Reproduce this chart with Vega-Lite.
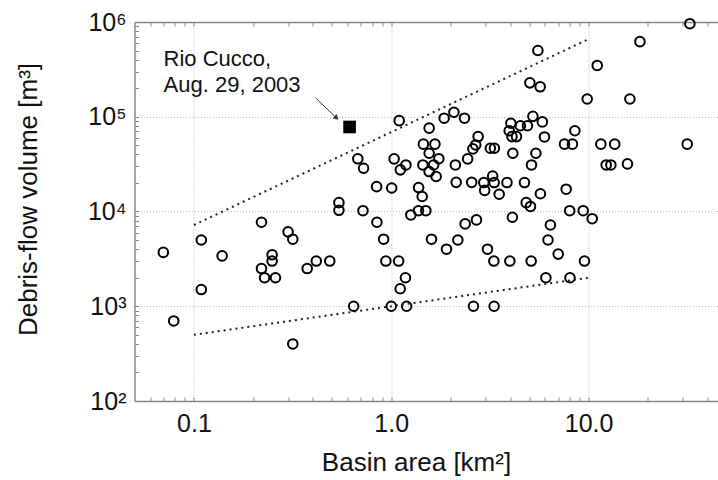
{
  "$schema": "https://vega.github.io/schema/vega-lite/v6.json",
  "width": 583,
  "height": 379,
  "autosize": "none",
  "padding": {"left": 134.5, "top": 22, "right": 0, "bottom": 79},
  "background": "white",
  "config": {
    "view": {"stroke": null},
    "font": "Liberation Sans",
    "axis": {"labelFont": "Liberation Sans", "titleFont": "Liberation Sans", "labelColor": "#111", "titleColor": "#111", "titleFontWeight": "normal"}
  },
  "datasets": {
    "pts": [
      {"area": 0.070, "volume": 3700}, {"area": 0.079, "volume": 700}, {"area": 0.109, "volume": 5000}, {"area": 0.109, "volume": 1500},
      {"area": 0.139, "volume": 3400}, {"area": 0.22, "volume": 7700}, {"area": 0.22, "volume": 2500}, {"area": 0.228, "volume": 2000},
      {"area": 0.249, "volume": 3500}, {"area": 0.249, "volume": 3000}, {"area": 0.259, "volume": 2000}, {"area": 0.30, "volume": 6100},
      {"area": 0.317, "volume": 5100}, {"area": 0.317, "volume": 400}, {"area": 0.375, "volume": 2500}, {"area": 0.417, "volume": 3000},
      {"area": 0.488, "volume": 3000}, {"area": 0.543, "volume": 12400}, {"area": 0.543, "volume": 10300}, {"area": 0.645, "volume": 1000},
      {"area": 0.677, "volume": 36000}, {"area": 0.724, "volume": 28600}, {"area": 0.719, "volume": 10200}, {"area": 0.843, "volume": 18300},
      {"area": 0.846, "volume": 7700}, {"area": 0.915, "volume": 5100}, {"area": 0.939, "volume": 3000}, {"area": 1.0, "volume": 1000},
      {"area": 1.005, "volume": 17700}, {"area": 1.034, "volume": 35900}, {"area": 1.097, "volume": 91000}, {"area": 1.112, "volume": 27500},
      {"area": 1.09, "volume": 3000}, {"area": 1.11, "volume": 1530}, {"area": 1.18, "volume": 2000}, {"area": 1.187, "volume": 31000},
      {"area": 1.197, "volume": 1000}, {"area": 1.257, "volume": 9200}, {"area": 1.376, "volume": 17900}, {"area": 1.374, "volume": 10200},
      {"area": 1.435, "volume": 14400}, {"area": 1.455, "volume": 51400}, {"area": 1.446, "volume": 31000}, {"area": 1.497, "volume": 10200},
      {"area": 1.556, "volume": 75800}, {"area": 1.556, "volume": 41200}, {"area": 1.556, "volume": 26400}, {"area": 1.599, "volume": 5100},
      {"area": 1.665, "volume": 51400}, {"area": 1.640, "volume": 31000}, {"area": 1.689, "volume": 23400}, {"area": 1.742, "volume": 36100},
      {"area": 1.854, "volume": 96500}, {"area": 1.905, "volume": 4000}, {"area": 2.078, "volume": 111600}, {"area": 2.113, "volume": 31000},
      {"area": 2.133, "volume": 20300}, {"area": 2.175, "volume": 5000}, {"area": 2.350, "volume": 96500}, {"area": 2.369, "volume": 7400},
      {"area": 2.438, "volume": 35900}, {"area": 2.556, "volume": 20300}, {"area": 2.592, "volume": 45800}, {"area": 2.610, "volume": 1000},
      {"area": 2.679, "volume": 50400}, {"area": 2.703, "volume": 8150}, {"area": 2.756, "volume": 61700}, {"area": 2.946, "volume": 20200},
      {"area": 2.974, "volume": 16700}, {"area": 3.073, "volume": 4000}, {"area": 3.178, "volume": 46500}, {"area": 3.265, "volume": 23700},
      {"area": 3.323, "volume": 20200}, {"area": 3.334, "volume": 46500}, {"area": 3.311, "volume": 3000}, {"area": 3.32, "volume": 1000},
      {"area": 3.523, "volume": 15200}, {"area": 3.859, "volume": 20200}, {"area": 3.960, "volume": 71200}, {"area": 3.99, "volume": 3000},
      {"area": 4.037, "volume": 85400}, {"area": 4.091, "volume": 61700}, {"area": 4.110, "volume": 8700}, {"area": 4.131, "volume": 41200},
      {"area": 4.311, "volume": 61700}, {"area": 4.510, "volume": 80400}, {"area": 4.733, "volume": 20200}, {"area": 4.829, "volume": 12400},
      {"area": 4.900, "volume": 80400}, {"area": 5.04, "volume": 228000}, {"area": 5.076, "volume": 11300}, {"area": 5.117, "volume": 3000},
      {"area": 5.136, "volume": 31000}, {"area": 5.221, "volume": 101000}, {"area": 5.407, "volume": 41200}, {"area": 5.534, "volume": 500000},
      {"area": 5.684, "volume": 207000}, {"area": 5.70, "volume": 15400}, {"area": 5.830, "volume": 88200}, {"area": 5.976, "volume": 61200},
      {"area": 6.075, "volume": 2000}, {"area": 6.227, "volume": 5000}, {"area": 6.404, "volume": 7200}, {"area": 7.015, "volume": 3550},
      {"area": 7.548, "volume": 51400}, {"area": 7.698, "volume": 17200}, {"area": 8.02, "volume": 10200}, {"area": 8.05, "volume": 2000},
      {"area": 8.28, "volume": 51400}, {"area": 8.52, "volume": 71200}, {"area": 9.39, "volume": 10200}, {"area": 9.53, "volume": 3000},
      {"area": 9.84, "volume": 154000}, {"area": 10.43, "volume": 8400}, {"area": 11.06, "volume": 348000}, {"area": 11.54, "volume": 51400},
      {"area": 12.28, "volume": 31000}, {"area": 12.97, "volume": 31000}, {"area": 13.56, "volume": 51400}, {"area": 15.74, "volume": 31800},
      {"area": 16.19, "volume": 154000}, {"area": 18.2, "volume": 620000}, {"area": 31.6, "volume": 51400}, {"area": 32.6, "volume": 960000}
    ],
    "cucco": [{"area": 0.615, "volume": 78000}],
    "bounds": [
      {"bound": "upper", "area": 0.1, "volume": 7200}, {"bound": "upper", "area": 10, "volume": 660000},
      {"bound": "lower", "area": 0.1, "volume": 500}, {"bound": "lower", "area": 10, "volume": 2000}
    ],
    "note": [
      {"area": 0.0702, "volume": 346000, "label": "Rio Cucco,"},
      {"area": 0.0702, "volume": 184000, "label": "Aug. 29, 2003"}
    ],
    "arrow": [{"x1": 0.414, "y1": 157800, "x2": 0.528, "y2": 97000}]
  },
  "layer": [
    {
      "data": {"name": "pts"},
      "mark": {"type": "point", "shape": "circle", "filled": false, "size": 92, "strokeWidth": 2, "color": "#000", "opacity": 1},
      "encoding": {
        "x": {"field": "area", "type": "quantitative", "scale": {"type": "log", "domain": [0.05, 45], "nice": false},
          "axis": {"orient": "bottom", "values": [0.1, 1, 10], "format": ".1f", "ticks": false, "domain": true, "domainColor": "#888", "domainWidth": 1.5,
            "grid": true, "gridColor": "#bbb", "gridDash": [1, 2], "gridWidth": 1, "labelFontSize": 25, "labelPadding": 10, "labelFlush": false, "labelOverlap": false,
            "title": "Basin area [km²]", "titleFontSize": 26, "titleX": 281.5, "titleY": 69, "titleAlign": "center", "titleBaseline": "alphabetic", "titleAnchor": null}},
        "y": {"field": "volume", "type": "quantitative", "scale": {"type": "log", "domain": [100, 1000000], "nice": false},
          "axis": {"orient": "left", "values": [100, 1000, 10000, 100000, 1000000],
            "labelExpr": "datum.value == 100 ? '10²' : datum.value == 1000 ? '10³' : datum.value == 10000 ? '10⁴' : datum.value == 100000 ? '10⁵' : '10⁶'",
            "ticks": false, "domain": true, "domainColor": "#888", "domainWidth": 1.5,
            "grid": true, "gridColor": "#bbb", "gridDash": [1, 2], "gridWidth": 1, "labelFontSize": 25, "labelPadding": 8.5, "labelFlush": false, "labelOverlap": false,
            "title": "Debris-flow volume [m³]", "titleFontSize": 26, "titleX": -106, "titleY": 177, "titleAngle": -90, "titleAlign": "center", "titleBaseline": "middle"}}
      }
    },
    {
      "data": {"name": "cucco"},
      "mark": {"type": "point", "shape": "square", "filled": true, "size": 160, "color": "#000", "opacity": 1},
      "encoding": {
        "x": {"field": "area", "type": "quantitative", "scale": {"type": "log", "domain": [0.05, 45], "nice": false},
          "axis": {"orient": "bottom", "values": [0.06, 0.07, 0.08, 0.09, 0.1, 0.2, 0.3, 0.4, 0.5, 0.6, 0.7, 0.8, 0.9, 1, 2, 3, 4, 5, 6, 7, 8, 9, 10, 20, 30, 40],
            "labels": false, "domain": false, "grid": false, "ticks": true, "tickSize": -4, "tickColor": "#888", "tickWidth": 1, "title": null}},
        "y": {"field": "volume", "type": "quantitative", "scale": {"type": "log", "domain": [100, 1000000], "nice": false},
          "axis": {"orient": "left", "values": [100, 200, 300, 400, 500, 600, 700, 800, 900, 1000, 2000, 3000, 4000, 5000, 6000, 7000, 8000, 9000, 10000, 20000, 30000, 40000, 50000, 60000, 70000, 80000, 90000, 100000, 200000, 300000, 400000, 500000, 600000, 700000, 800000, 900000, 1000000],
            "labels": false, "domain": false, "grid": false, "ticks": true, "tickSize": -4, "tickColor": "#888", "tickWidth": 1, "title": null}}
      }
    },
    {
      "data": {"name": "bounds"},
      "mark": {"type": "line", "strokeDash": [2, 4], "strokeWidth": 2, "color": "#222"},
      "encoding": {
        "x": {"field": "area", "type": "quantitative", "scale": {"type": "log", "domain": [0.05, 45], "nice": false},
          "axis": {"orient": "top", "values": [0.06, 0.07, 0.08, 0.09, 0.1, 0.2, 0.3, 0.4, 0.5, 0.6, 0.7, 0.8, 0.9, 1, 2, 3, 4, 5, 6, 7, 8, 9, 10, 20, 30, 40],
            "labels": false, "domain": true, "domainColor": "#888", "domainWidth": 1.5, "grid": false, "ticks": true, "tickSize": -4, "tickColor": "#888", "tickWidth": 1, "title": null}},
        "y": {"field": "volume", "type": "quantitative", "scale": {"type": "log", "domain": [100, 1000000], "nice": false}, "axis": null},
        "detail": {"field": "bound", "type": "nominal"}
      }
    },
    {
      "data": {"name": "note"},
      "mark": {"type": "text", "align": "left", "baseline": "alphabetic", "fontSize": 22, "font": "Liberation Sans", "color": "#111"},
      "encoding": {
        "x": {"field": "area", "type": "quantitative", "scale": {"type": "log", "domain": [0.05, 45], "nice": false}, "axis": null},
        "y": {"field": "volume", "type": "quantitative", "scale": {"type": "log", "domain": [100, 1000000], "nice": false}, "axis": null},
        "text": {"field": "label", "type": "nominal"}
      }
    },
    {
      "data": {"name": "arrow"},
      "mark": {"type": "rule", "strokeWidth": 1, "color": "#333"},
      "encoding": {
        "x": {"field": "x1", "type": "quantitative", "scale": {"type": "log", "domain": [0.05, 45], "nice": false}, "axis": null},
        "y": {"field": "y1", "type": "quantitative", "scale": {"type": "log", "domain": [100, 1000000], "nice": false}, "axis": null},
        "x2": {"field": "x2"},
        "y2": {"field": "y2"}
      }
    },
    {
      "data": {"name": "arrow"},
      "mark": {"type": "point", "shape": "triangle-up", "filled": true, "size": 35, "angle": 134, "color": "#333", "opacity": 1},
      "encoding": {
        "x": {"field": "x2", "type": "quantitative", "scale": {"type": "log", "domain": [0.05, 45], "nice": false}, "axis": null},
        "y": {"field": "y2", "type": "quantitative", "scale": {"type": "log", "domain": [100, 1000000], "nice": false}, "axis": null}
      }
    }
  ],
  "resolve": {"axis": {"x": "independent", "y": "independent"}}
}
